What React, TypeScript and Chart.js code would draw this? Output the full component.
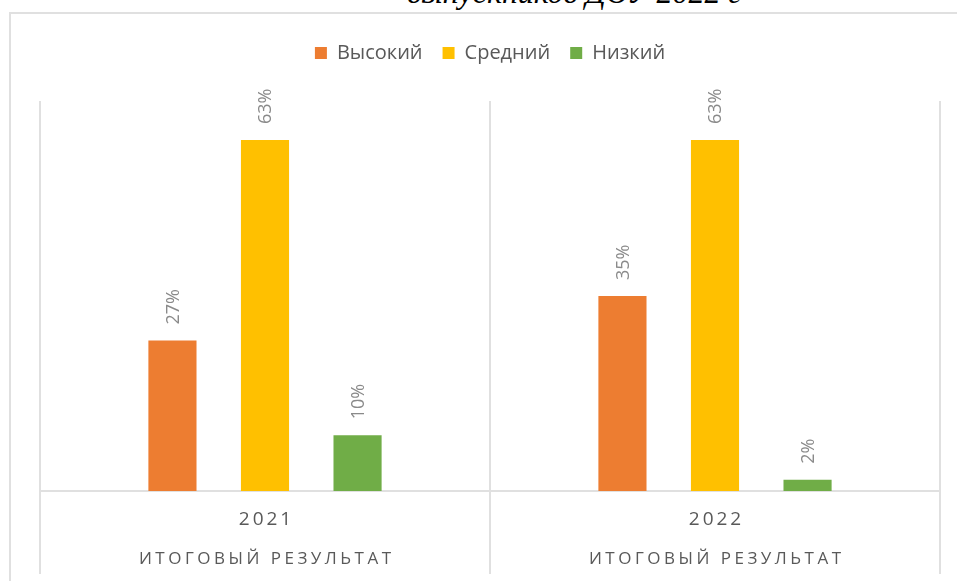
import React, { useEffect, useRef } from "react";
import { Chart, registerables } from "chart.js";

Chart.register(...registerables);

const titleText = "выпускников ДОУ 2022 г";
const categories = ["2021", "2022"];
const groupLabel = "ИТОГОВЫЙ РЕЗУЛЬТАТ";
const seriesNames = ["Высокий", "Средний", "Низкий"];
const highValues = [27, 35];
const midValues = [63, 63];
const lowValues = [10, 2];
const seriesColors = ["#ED7D31", "#FFC000", "#70AD47"];
const yMax = 70;

const FONT = "'Open Sans', 'Liberation Sans', sans-serif";

const legendSpacer = {
  id: "legendSpacer",
  beforeInit(chart: any) {
    const orig = chart.legend.fit;
    chart.legend.fit = function () {
      orig.call(this);
      this.height += 28;
    };
  },
};

const barLabels = {
  id: "barLabels",
  afterDatasetsDraw(chart: any) {
    const ctx = chart.ctx;
    chart.data.datasets.forEach((ds: any, di: number) => {
      const meta = chart.getDatasetMeta(di);
      meta.data.forEach((bar: any, i: number) => {
        const v = ds.data[i];
        ctx.save();
        ctx.translate(bar.x, bar.y - 16);
        ctx.rotate(-Math.PI / 2);
        ctx.font = `18px ${FONT}`;
        ctx.fillStyle = "#8a8a8a";
        ctx.textAlign = "left";
        ctx.textBaseline = "middle";
        ctx.fillText(v + "%", 0, 1);
        ctx.restore();
      });
    });
  },
};

const categoryLabels = {
  id: "categoryLabels",
  afterDraw(chart: any) {
    const ctx = chart.ctx;
    const xs = chart.scales.x;
    const bottom = chart.chartArea.bottom;
    categories.forEach((c, i) => {
      const x = xs.getPixelForValue(i);
      ctx.save();
      ctx.fillStyle = "#595959";
      ctx.textAlign = "center";
      ctx.textBaseline = "middle";
      ctx.font = `19px ${FONT}`;
      (ctx as any).letterSpacing = "3px";
      ctx.fillText(c, x + 1.5, bottom + 29);
      (ctx as any).letterSpacing = "3.5px";
      ctx.font = `17px ${FONT}`;
      ctx.fillText(groupLabel, x + 1.75, bottom + 68);
      ctx.restore();
    });
  },
};

export default function App() {
  const canvasRef = useRef<HTMLCanvasElement | null>(null);

  useEffect(() => {
    if (!canvasRef.current) return;
    const chart = new Chart(canvasRef.current, {
      type: "bar",
      data: {
        labels: categories,
        datasets: [
          { label: seriesNames[0], data: highValues, backgroundColor: seriesColors[0] },
          { label: seriesNames[1], data: midValues, backgroundColor: seriesColors[1] },
          { label: seriesNames[2], data: lowValues, backgroundColor: seriesColors[2] },
        ],
      },
      options: {
        responsive: false,
        animation: false,
        layout: { padding: { top: 23, left: 40, right: 17, bottom: 7 } },
        datasets: {
          bar: { categoryPercentage: 0.617, barPercentage: 0.52 },
        } as any,
        plugins: {
          legend: {
            position: "top",
            labels: {
              boxWidth: 12,
              boxHeight: 12,
              padding: 20,
              color: "#595959",
              font: { family: FONT, size: 20 },
            },
          },
          tooltip: { enabled: false },
          title: { display: false },
        },
        scales: {
          x: {
            display: true,
            grid: {
              offset: true,
              color: "#e0e0e0",
              lineWidth: 2,
              drawTicks: true,
              tickLength: 83,
            },
            border: { display: true, color: "#e0e0e0", width: 2 },
            ticks: { display: false },
          },
          y: {
            display: false,
            min: 0,
            max: yMax,
          },
        },
      },
      plugins: [legendSpacer, barLabels, categoryLabels],
    });
    return () => chart.destroy();
  }, []);

  return (
    <div style={{ position: "fixed", left: 0, top: 0, width: 957, height: 581, overflow: "hidden", background: "#fff" }}>
      <div
        style={{
          position: "absolute",
          left: 574,
          top: -24,
          transform: "translateX(-50%)",
          whiteSpace: "nowrap",
          fontFamily: "'Liberation Serif', 'Times New Roman', serif",
          fontStyle: "italic",
          fontSize: 32,
          lineHeight: "32px",
          color: "#000",
        }}
      >
        {titleText}
      </div>
      <div
        style={{
          position: "absolute",
          left: 9,
          top: 12,
          width: 1000,
          height: 700,
          borderLeft: "2px solid #e0e0e0",
          borderTop: "2px solid #e0e0e0",
        }}
      />
      <canvas ref={canvasRef} width={957} height={581} style={{ position: "absolute", left: 0, top: 0 }} />
    </div>
  );
}
